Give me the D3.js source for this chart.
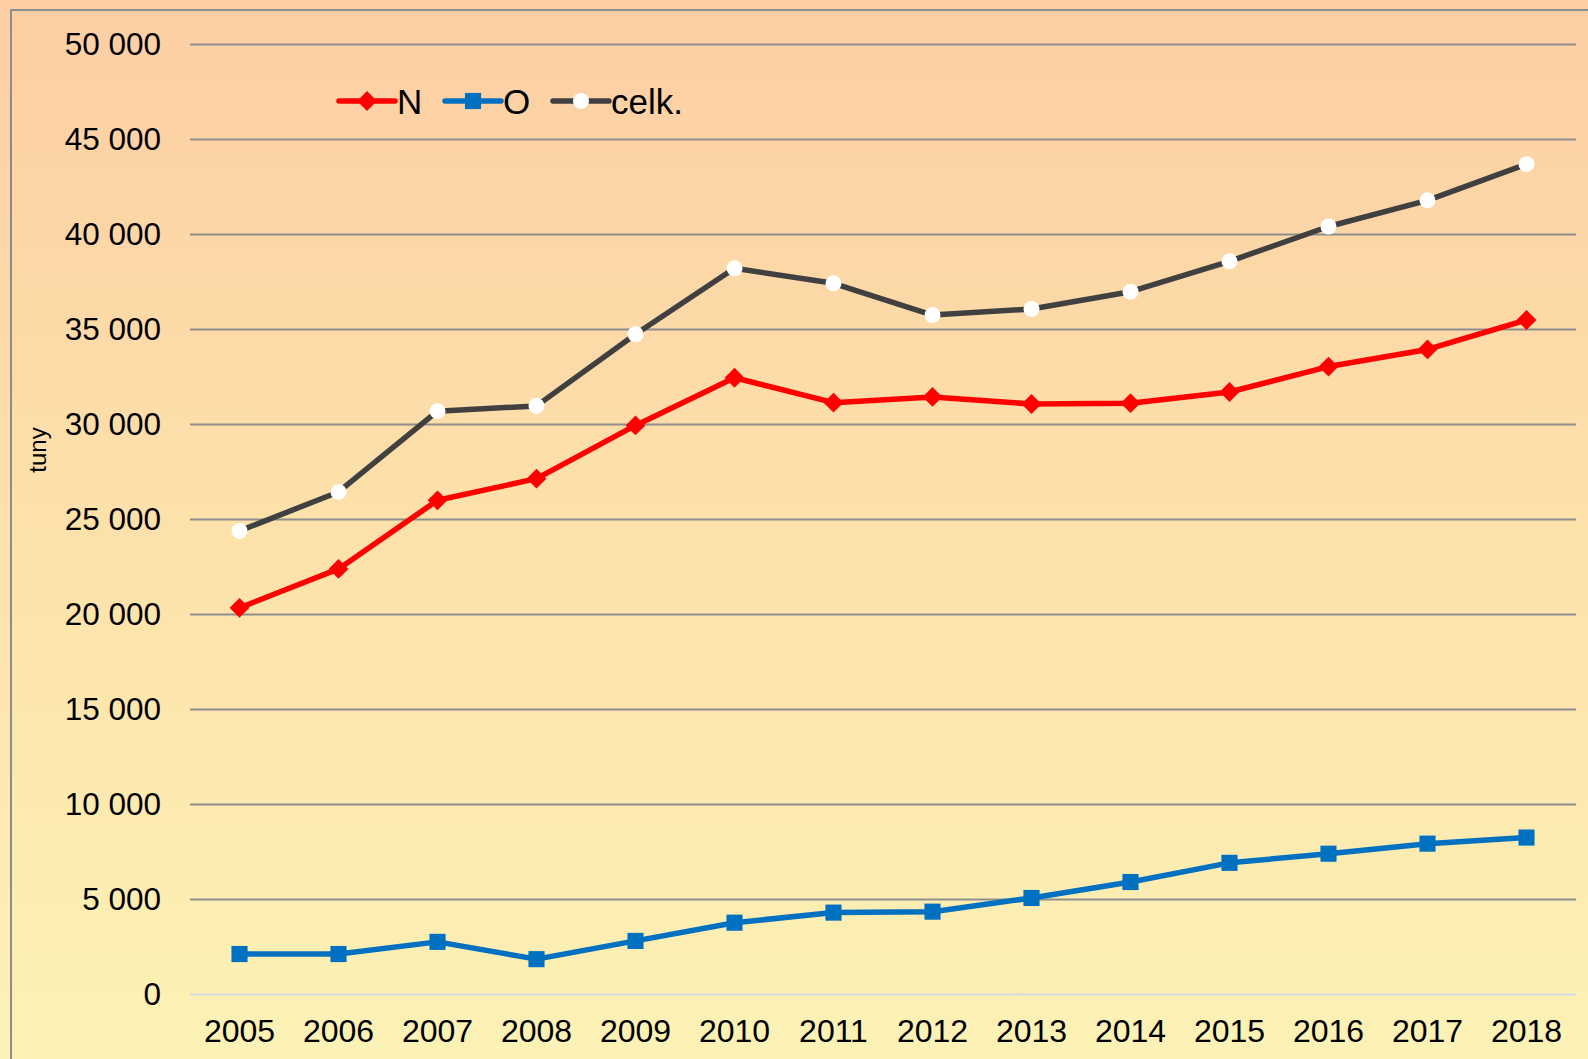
<!DOCTYPE html>
<html>
<head>
<meta charset="utf-8">
<script src="https://cdn.jsdelivr.net/npm/d3@7"></script>
<style>
  body { margin: 0; background: #fff; }
  svg { display: block; font-family: "Liberation Sans", Arial, sans-serif; }
</style>
</head>
<body>
<div id="chart"></div>
<script>
// chart data
const years = ['2005', '2006', '2007', '2008', '2009', '2010', '2011', '2012', '2013', '2014', '2015', '2016', '2017', '2018'];
const valuesN = [20350, 22400, 26010, 27150, 29950, 32460, 31150, 31450, 31080, 31120, 31710, 33050, 33950, 35500];
const valuesO = [2130, 2130, 2770, 1860, 2820, 3780, 4310, 4360, 5080, 5920, 6930, 7410, 7940, 8260];
const valuesCelk = [24400, 26450, 30700, 30980, 34750, 38220, 37430, 35760, 36080, 36990, 38590, 40420, 41800, 43700];
const yTicks = [0, 5000, 10000, 15000, 20000, 25000, 30000, 35000, 40000, 45000, 50000];
const seriesNames = ['N', 'O', 'celk.'];

const W = 1588, H = 1059;
const plotLeft = 190, plotRight = 1576, plotTop = 44.5, plotBottom = 994.5;

const svg = d3.select('#chart').append('svg')
    .attr('width', W)
    .attr('height', H);

// background gradient
const grad = svg.append('defs').append('linearGradient')
    .attr('id', 'bg')
    .attr('x1', 0).attr('y1', 0).attr('x2', 0).attr('y2', 1);
grad.append('stop').attr('offset', '0%').attr('stop-color', '#fdcea4');
grad.append('stop').attr('offset', '55%').attr('stop-color', '#fde3ab');
grad.append('stop').attr('offset', '100%').attr('stop-color', '#fcf2b6');

svg.append('rect')
    .attr('width', W).attr('height', H)
    .attr('fill', 'url(#bg)');

// outer frame (only top and left edges visible)
svg.append('rect')
    .attr('x', 11).attr('y', 10)
    .attr('width', W + 20).attr('height', H + 20)
    .attr('fill', 'none')
    .attr('stroke', '#8c8c8c')
    .attr('stroke-width', 2);

const x = d3.scaleBand()
    .domain(years)
    .range([plotLeft, plotRight]);

const y = d3.scaleLinear()
    .domain([0, 50000])
    .range([plotBottom, plotTop]);

const fmt = d3.formatLocale({ decimal: ',', thousands: ' ', grouping: [3], currency: ['', ''] }).format(',d');

// gridlines
svg.append('g').selectAll('line')
    .data(yTicks)
    .enter()
    .append('line')
    .attr('x1', plotLeft).attr('x2', plotRight)
    .attr('y1', d => y(d)).attr('y2', d => y(d))
    .attr('stroke', d => d === 0 ? '#d5dae4' : '#8e8e8e')
    .attr('stroke-width', 2);

// y axis labels
const yAxis = svg.append('g')
    .attr('transform', `translate(${plotLeft},0)`)
    .call(d3.axisLeft(y).tickValues(yTicks).tickFormat(fmt).tickSize(0).tickPadding(29));
yAxis.select('.domain').remove();
yAxis.selectAll('text')
    .attr('font-size', 31.5)
    .attr('font-family', '"Liberation Sans", Arial, sans-serif')
    .attr('fill', '#000');

// x axis labels
const xAxis = svg.append('g')
    .attr('transform', `translate(0,${plotBottom})`)
    .call(d3.axisBottom(x).tickSize(0).tickPadding(25));
xAxis.select('.domain').remove();
xAxis.selectAll('text')
    .attr('font-size', 32)
    .attr('font-family', '"Liberation Sans", Arial, sans-serif')
    .attr('fill', '#000');

// y axis title
svg.append('text')
    .attr('transform', 'translate(46,450) rotate(-90)')
    .attr('text-anchor', 'middle')
    .attr('font-size', 24)
    .attr('fill', '#000')
    .text('tuny');

const line = d3.line()
    .x((d, i) => x(years[i]) + x.bandwidth() / 2)
    .y(d => y(d));

const diamond = d3.symbol().type(d3.symbolDiamond2).size(250);
const square = d3.symbol().type(d3.symbolSquare).size(260);

function drawSeries(values, color, markerFn) {
    svg.append('path')
        .datum(values)
        .attr('fill', 'none')
        .attr('stroke', color)
        .attr('stroke-width', 5.5)
        .attr('stroke-linejoin', 'round')
        .attr('d', line);

    const g = svg.append('g');
    values.forEach((v, i) => {
        markerFn(g, x(years[i]) + x.bandwidth() / 2, y(v));
    });
}

function diamondMarker(g, cx, cy) {
    g.append('path')
        .attr('d', diamond)
        .attr('transform', `translate(${cx},${cy})`)
        .attr('fill', '#ff0000');
}

function squareMarker(g, cx, cy) {
    g.append('path')
        .attr('d', square)
        .attr('transform', `translate(${cx},${cy})`)
        .attr('fill', '#0070c0');
}

function circleMarker(g, cx, cy) {
    g.append('circle')
        .attr('cx', cx).attr('cy', cy)
        .attr('r', 8)
        .attr('fill', '#ffffff');
}

drawSeries(valuesN, '#ff0000', diamondMarker);
drawSeries(valuesO, '#0070c0', squareMarker);
drawSeries(valuesCelk, '#404040', circleMarker);

// legend
const legendItems = [
    { name: seriesNames[0], color: '#ff0000', marker: diamondMarker, x1: 339 },
    { name: seriesNames[1], color: '#0070c0', marker: squareMarker, x1: 445 },
    { name: seriesNames[2], color: '#404040', marker: circleMarker, x1: 553 }
];
const legend = svg.append('g');
const ly = 101;
legendItems.forEach(item => {
    legend.append('line')
        .attr('x1', item.x1).attr('x2', item.x1 + 56)
        .attr('y1', ly).attr('y2', ly)
        .attr('stroke', item.color)
        .attr('stroke-width', 5.5)
        .attr('stroke-linecap', 'round');
    item.marker(legend, item.x1 + 28, ly);
    legend.append('text')
        .attr('x', item.x1 + 58)
        .attr('y', ly + 12.5)
        .attr('font-size', 35)
        .attr('fill', '#000')
        .text(item.name);
});
</script>
</body>
</html>
